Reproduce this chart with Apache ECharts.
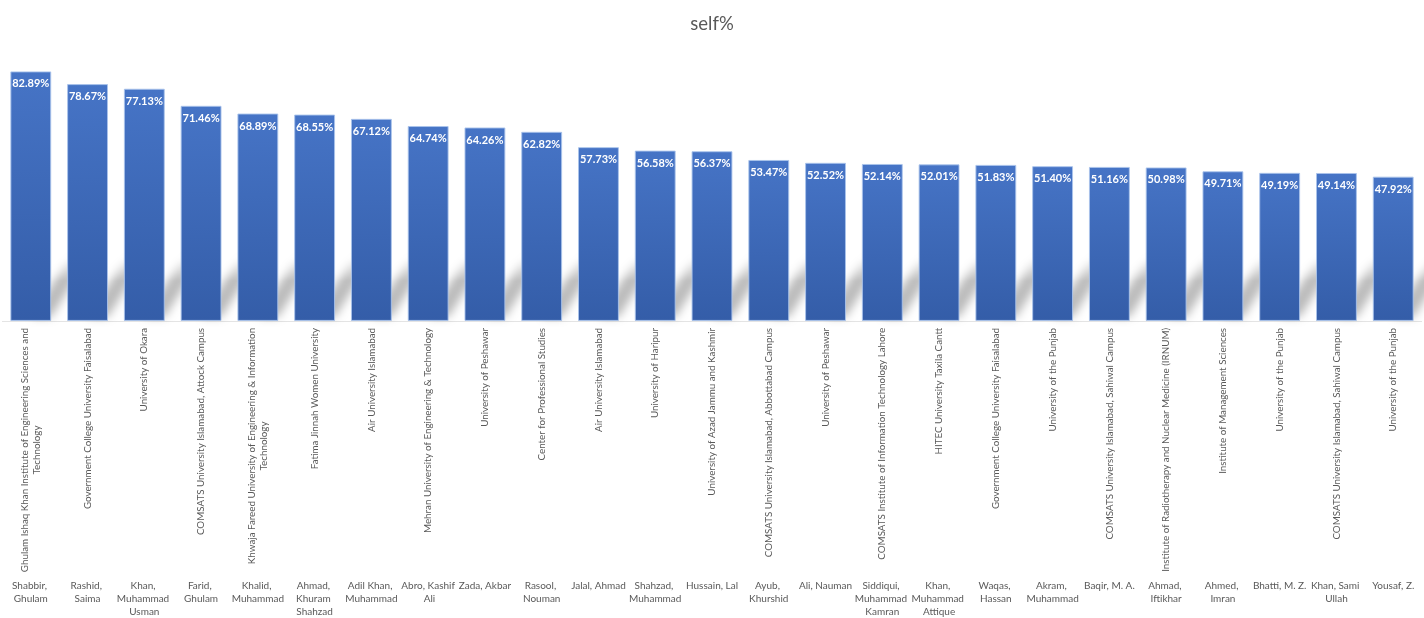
<!DOCTYPE html>
<html>
<head>
<meta charset="utf-8">
<script src="https://cdn.jsdelivr.net/npm/echarts@6/dist/echarts.min.js"></script>
<style>
html,body{margin:0;padding:0;background:#fff;}
#chart{width:1424px;height:618px;}
</style>
</head>
<body>
<div id="chart"></div>
<script>
const institutions = [
  "Ghulam Ishaq Khan Institute of Engineering Sciences and Technology",
  "Government College University Faisalabad",
  "University of Okara",
  "COMSATS University Islamabad, Attock Campus",
  "Khwaja Fareed University of Engineering & Information Technology",
  "Fatima Jinnah Women University",
  "Air University Islamabad",
  "Mehran University of Engineering & Technology",
  "University of Peshawar",
  "Center for Professional Studies",
  "Air University Islamabad",
  "University of Haripur",
  "University of Azad Jammu and Kashmir",
  "COMSATS University Islamabad, Abbottabad Campus",
  "University of Peshawar",
  "COMSATS Institute of Information Technology Lahore",
  "HITEC University Taxila Cantt",
  "Government College University Faisalabad",
  "University of the Punjab",
  "COMSATS University Islamabad, Sahiwal Campus",
  "Institute of Radiotherapy and Nuclear Medicine (IRNUM)",
  "Institute of Management Sciences",
  "University of the Punjab",
  "COMSATS University Islamabad, Sahiwal Campus",
  "University of the Punjab"
];
const authors = [
  "Shabbir, Ghulam", "Rashid, Saima", "Khan, Muhammad Usman", "Farid, Ghulam",
  "Khalid, Muhammad", "Ahmad, Khuram Shahzad", "Adil Khan, Muhammad", "Abro, Kashif Ali",
  "Zada, Akbar", "Rasool, Nouman", "Jalal, Ahmad", "Shahzad, Muhammad", "Hussain, Lal",
  "Ayub, Khurshid", "Ali, Nauman", "Siddiqui, Muhammad Kamran", "Khan, Muhammad Attique",
  "Waqas, Hassan", "Akram, Muhammad", "Baqir, M. A.", "Ahmad, Iftikhar", "Ahmed, Imran",
  "Bhatti, M. Z.", "Khan, Sami Ullah", "Yousaf, Z."
];
const selfPct = [
  82.89, 78.67, 77.13, 71.46, 68.89, 68.55, 67.12, 64.74, 64.26, 62.82,
  57.73, 56.58, 56.37, 53.47, 52.52, 52.14, 52.01, 51.83, 51.40, 51.16,
  50.98, 49.71, 49.19, 49.14, 47.92
];

const FONT = 'Lato, "Open Sans", sans-serif';
const BAR_RATIO = 0.72;
const SHADOW_SHIFT = 1000;

function wrapWords(text, maxChars) {
  const words = text.split(' ');
  const lines = [];
  let cur = '';
  words.forEach(w => {
    if (cur && (cur + ' ' + w).length > maxChars) { lines.push(cur); cur = w; }
    else cur = cur ? cur + ' ' + w : w;
  });
  if (cur) lines.push(cur);
  return lines.join('\n');
}

const chart = echarts.init(document.getElementById('chart'), null, {renderer: 'canvas'});
chart.setOption({
  backgroundColor: '#ffffff',
  animation: false,
  title: {
    text: 'self%',
    left: 'center',
    top: 10,
    textStyle: {fontFamily: FONT, fontSize: 18.5, fontWeight: 'normal', color: '#595959'}
  },
  grid: {left: 2, top: 50, width: 1430, bottom: 295, containLabel: false},
  xAxis: [
    {
      type: 'category',
      data: institutions,
      axisLine: {show: true, lineStyle: {color: '#e4e4e4'}},
      axisTick: {show: false},
      axisLabel: {
        interval: 0,
        rotate: 90,
        margin: 7,
        formatter: v => '{c|' + wrapWords(v, 56) + '}',
        rich: {
          c: {align: 'center', fontFamily: FONT, fontSize: 9.8, lineHeight: 12.7, color: '#595959'}
        }
      }
    },
    {
      type: 'category',
      position: 'bottom',
      offset: 251,
      data: authors,
      axisLine: {show: false},
      axisTick: {show: false},
      axisLabel: {
        interval: 0,
        margin: 8,
        width: 56,
        overflow: 'break',
        align: 'center',
        fontFamily: FONT,
        fontSize: 10,
        lineHeight: 12.7,
        color: '#595959'
      }
    }
  ],
  yAxis: {type: 'value', min: 0, max: 90, show: false, splitLine: {show: false}},
  series: [
    {
      type: 'custom',
      xAxisIndex: 0,
      z: 1,
      silent: true,
      clip: false,
      data: selfPct.map((v, i) => [i, v]),
      renderItem: function (params, api) {
        const base = api.coord([api.value(0), 0]);
        const cw = api.size([1, 0])[0];
        const right = base[0] + cw * BAR_RATIO / 2;
        const w = 20, dx = 38, h = 60;
        const y0 = base[1] - 4 - SHADOW_SHIFT;
        return {
          type: 'polygon',
          shape: {points: [[right - w, y0], [right, y0], [right + dx, y0 - h], [right - w + dx, y0 - h]]},
          style: {
            fill: new echarts.graphic.LinearGradient(0, 0, 0, 1, [
              {offset: 0, color: 'rgba(0,0,0,0.1)'},
              {offset: 0.4, color: 'rgba(0,0,0,0.95)'},
              {offset: 1, color: 'rgba(0,0,0,1)'}
            ]),
            shadowBlur: 10,
            shadowOffsetY: SHADOW_SHIFT,
            shadowColor: 'rgba(0,0,0,0.28)'
          }
        };
      }
    },
    {
      type: 'bar',
      xAxisIndex: 0,
      z: 2,
      data: selfPct,
      barWidth: (BAR_RATIO * 100) + '%',
      itemStyle: {
        color: new echarts.graphic.LinearGradient(0, 0, 0, 1, [
          {offset: 0, color: '#4674C6'},
          {offset: 1, color: '#345DA8'}
        ]),
        borderColor: 'rgba(170,195,235,0.9)',
        borderWidth: 1
      },
      label: {
        show: true,
        position: 'insideTop',
        distance: 7,
        formatter: p => p.value.toFixed(2) + '%',
        fontFamily: FONT,
        fontSize: 11,
        fontWeight: 'bold',
        color: '#ffffff'
      }
    }
  ]
});
</script>
</body>
</html>
